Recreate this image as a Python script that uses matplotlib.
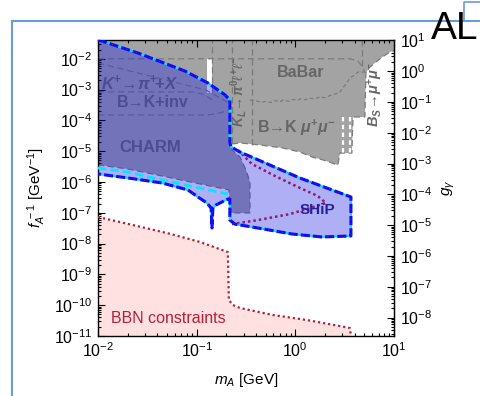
import numpy as np
import matplotlib
matplotlib.use("Agg")
import matplotlib.pyplot as plt
from matplotlib.ticker import LogLocator, NullFormatter
from matplotlib.lines import Line2D

plt.rcParams["font.family"] = ["Liberation Sans", "DejaVu Sans"]
plt.rcParams["mathtext.fontset"] = "custom"
plt.rcParams["mathtext.rm"] = "Liberation Sans"
plt.rcParams["mathtext.it"] = "Liberation Sans:italic"
plt.rcParams["mathtext.bf"] = "Liberation Sans:bold"
plt.rcParams["mathtext.bfit"] = "Liberation Sans:italic:bold"
plt.rcParams["mathtext.fallback"] = "stixsans"

# ---------------- data ----------------
m_lim = [1e-2, 1e1]                 # m_A [GeV]
f_lim = [1e-11, 10 ** -1.39]        # f_A^-1 [GeV^-1]
g_per_f = 10 ** 2.4                 # g_gamma per unit f_A^-1

# BBN excluded region (upper edge)
bbn_m = [0.01, 0.0226, 0.050, 0.108, 0.207, 0.212, 0.233, 0.275, 0.593, 1.31, 2.83, 3.57, 3.66]
bbn_f = [7.3e-8, 4.0e-8, 2.2e-8, 1.13e-8, 5.3e-9, 1.48e-10, 1.01e-10, 8.1e-11, 4.8e-11,
         3.3e-11, 2.1e-11, 1.82e-11, 1.0e-11]

# SHiP sensitivity, outer contour
ship_m = [0.01, 0.0254, 0.076, 0.130, 0.194, 0.217, 0.217, 0.222, 0.233, 0.275, 1.11, 3.66,
          3.66, 1.86, 0.925, 0.418, 0.244, 0.217, 0.217, 0.207, 0.180, 0.157, 0.146, 0.143,
          0.140, 0.127, 0.103, 0.0817, 0.0445, 0.0201, 0.01]
ship_f = [0.0415, 0.0154, 4.0e-3, 1.64e-3, 6.7e-4, 4.6e-4, 1.85e-5, 1.45e-5, 1.27e-5, 9.4e-6,
          1.35e-6, 3.26e-7, 1.77e-8, 1.64e-8, 2.05e-8, 3.2e-8, 4.3e-8, 5.8e-8, 2.8e-7, 2.8e-7,
          2.24e-7, 1.79e-7, 1.43e-7, 3.2e-8, 1.43e-7, 2.08e-7, 3.26e-7, 5.5e-7, 9.3e-7,
          1.35e-6, 1.82e-6]

# SHiP inner (dotted) contour
ship_in_m = [0.262, 0.363, 0.621, 1.06, 1.69, 2.04, 1.41, 0.88, 0.418, 0.228]
ship_in_f = [1.09e-5, 3.84e-6, 1.57e-6, 6.9e-7, 3.5e-7, 2.08e-7, 1.43e-7, 9.1e-8, 5.8e-8, 4.3e-8]

# lower edge of the CHARM-excluded band (cyan)
charm_m = [0.01, 0.0201, 0.0445, 0.0962, 0.207]
charm_f = [2.85e-6, 2.11e-6, 1.16e-6, 6.9e-7, 4.07e-7]

# combined excluded region (CHARM, K and B decays, BaBar, Bs -> mu mu)
excl_m = [0.0095, 10.5, 10.5, 9.08, 7.9, 6.56, 5.57, 5.19, 5.07, 3.84, 3.74, 2.83, 2.70, 1.91,
          1.47, 1.11, 0.748, 0.438, 0.275, 0.228, 0.228, 0.275, 0.316, 0.347, 0.347, 0.223,
          0.212, 0.194, 0.0962, 0.0445, 0.0201, 0.0095]
excl_f = [0.1, 0.1, 0.0193, 0.0166, 0.0123, 7.9e-3, 5.0e-3, 3.46e-3, 1.29e-4, 1.29e-4, 8.7e-6,
          8.7e-6, 3.56e-6, 5.2e-6, 6.5e-6, 9.4e-6, 1.27e-5, 1.59e-5, 1.85e-5, 1.71e-5, 1.09e-5,
          6.5e-6, 2.45e-6, 1.0e-6, 9.9e-8, 9.9e-8, 5.5e-7, 5.9e-7, 9.3e-7, 1.57e-6, 2.64e-6,
          3.7e-6]

# K+ -> pi+ X blind window around the pion mass
gap_m = [0.127, 0.143]
gap_f = [7.8e-4, 1.0e-2]

# individual constraint boundaries (dashed)
top_m = [0.01, 3.57, 4.3, 4.73, 5.07]
top_f = [1.0e-2, 1.0e-2, 8.5e-3, 5.8e-3, 3.7e-3]
kpi_m = [0.01, 0.124, 0.212]
kpi_f = [7.3e-3, 9.7e-4, 3.7e-4]
kpi_lo_m = [0.01, 0.09, 0.118, 0.145]
kpi_lo_f = [8.4e-4, 8.4e-4, 7.0e-4, 4.5e-4]
binv_m = [0.01, 0.13, 0.18, 0.215]
binv_f = [1.5e-4, 1.5e-4, 1.8e-4, 2.2e-4]
babar_m = [0.347, 0.40, 0.45, 0.50, 0.56, 0.62, 0.70, 0.75, 0.85, 0.95, 1.05, 1.11, 1.25, 1.4,
           1.55, 1.77, 2.0, 2.25, 2.52, 2.8, 3.03, 3.3, 3.57, 4.0, 4.3, 5.07]
babar_f = [4.6e-4, 4.3e-4, 3.9e-4, 4.1e-4, 3.8e-4, 4.4e-4, 4.0e-4, 4.6e-4, 4.2e-4, 4.8e-4,
           4.5e-4, 4.95e-4, 4.7e-4, 5.3e-4, 5.0e-4, 5.75e-4, 5.5e-4, 6.4e-4, 7.2e-4, 8.0e-4,
           1.13e-3, 1.6e-3, 2.38e-3, 3.0e-3, 3.7e-3, 3.7e-3]
vline_m = [0.143, 0.228, 0.363, 4.73]
vline_lo = [7.8e-4, 1.85e-5, 1.59e-5, 5.8e-3]
veto_m = [3.03, 3.57]                 # J/psi and psi(2S) windows
veto_f = [1.29e-4, 8.7e-6]

# ---------------- figure ----------------
W, H = 481, 396
fig = plt.figure(figsize=(W / 100, H / 100), dpi=100)
fig.patch.set_facecolor("white")
ax = fig.add_axes([98 / W, 60 / H, 296 / W, 296 / H])
ax.set_xscale("log")
ax.set_yscale("log")
ax.set_xlim(m_lim)
ax.set_ylim(f_lim)

gray_fill = "#a3a3a3"
gray_line = "#7b7b7b"
label_gray = "#666666"

# BBN
ax.fill_between(bbn_m, f_lim[0], bbn_f, color="#ffe1e1", lw=0, zorder=1)
ax.plot(bbn_m, bbn_f, ls=(0, (1, 1.3)), color="#b3203a", lw=1.6, zorder=5)

# excluded region
ax.fill(excl_m, excl_f, facecolor=gray_fill, edgecolor=gray_line, lw=0.9,
        ls=(0, (5, 3)), zorder=1.5)
ax.fill([gap_m[0], gap_m[1], gap_m[1], gap_m[0]], [gap_f[0], gap_f[0], gap_f[1], gap_f[1]],
        facecolor="white", edgecolor="none", zorder=1.6)

dash = dict(color=gray_line, lw=0.9, ls=(0, (5, 3)), zorder=1.7)
ax.plot(top_m, top_f, **dash)
ax.plot(kpi_m, kpi_f, **dash)
ax.plot(kpi_lo_m, kpi_lo_f, **dash)
ax.plot(binv_m, binv_f, **dash)
ax.plot(babar_m, babar_f, color=gray_line, lw=0.9, ls=(0, (3, 2)), zorder=1.7)
for xm, lo in zip(vline_m, vline_lo):
    ax.plot([xm, xm], [lo, 0.1], **dash)
for xm in veto_m:
    ax.plot([xm, xm], veto_f, color="white", lw=1.6, ls=(0, (2, 1.5)), zorder=1.7)

# labels lying under the SHiP shading
ax.text(0.0267, 1.64e-3, r"$\mathbfit{K}^{\mathbf{+}}\!\rightarrow\!\mathbfit{\pi}^{\mathbf{+}}\!\mathbf{+}\mathbfit{X}$",
        color=label_gray, fontsize=12, ha="center", va="center", zorder=1.8)
ax.text(0.036, 3.67e-4, "B→K+inv", color=label_gray, fontsize=11.5, fontweight="bold",
        ha="center", va="center", zorder=1.8)
ax.text(0.0337, 1.27e-5, "CHARM", color=label_gray, fontsize=12, fontweight="bold",
        ha="center", va="center", zorder=1.8)

# SHiP shading
ax.fill(ship_m, ship_f, facecolor="#1c1ce5", alpha=0.35, edgecolor="none", zorder=2)
ax.plot(charm_m, charm_f, color="#00e8ff", lw=2.0, ls=(0, (3, 1.5)), zorder=3)
ax.plot(ship_in_m, ship_in_f, color="#8b1a72", lw=1.8, ls=(0, (1, 1.2)), zorder=3)
ax.plot(ship_m, ship_f, color="#00e8ff", lw=1.6, zorder=4)
ax.plot(ship_m, ship_f, color="#0a0aff", lw=2.2, ls=(0, (3, 1)), zorder=4.1)
ax.plot(ship_m, ship_f, color="#c0304a", lw=0.8, ls=(0, (0.5, 4)), zorder=4.2)

# labels in the excluded region
ax.text(1.14, 3.46e-3, "BaBar", color=label_gray, fontsize=11.5, fontweight="bold",
        ha="center", va="center", zorder=6)
ax.text(1.01, 5.7e-5, r"B→K $\mathbfit{\mu}^{\mathbf{+}}\mathbfit{\mu}^{\mathbf{-}}$",
        color=label_gray, fontsize=11.5, fontweight="bold", ha="center", va="center", zorder=6)
ax.text(0.265, 8.7e-4, r"$\mathbfit{K}_{\mathbfit{L}}\!\rightarrow\!\mathbfit{\pi}^{\mathbf{0}}\ell^{\mathbf{+}}\ell^{\mathbf{-}}$",
        color=label_gray, fontsize=10, rotation=90, ha="center", va="center", zorder=6)
ax.text(6.4, 7.2e-4, r"$\mathbfit{B}_{\mathbfit{S}}\!\rightarrow\!\mathbfit{\mu}^{\mathbf{+}}\mathbfit{\mu}^{\mathbf{-}}$",
        color=label_gray, fontsize=10.5, rotation=90, ha="center", va="center", zorder=6)
ax.text(1.69, 1.23e-7, "SHiP", color="#22229a", fontsize=11, fontweight="bold",
        ha="center", va="center", zorder=6)
ax.text(0.0512, 3.84e-11, "BBN constraints", color="#b3203a", fontsize=11.5,
        ha="center", va="center", zorder=6)

# axes, ticks
ax.set_xlabel(r"$m_A$ [GeV]", fontsize=11, labelpad=8)
ax.set_ylabel(r"$f_A^{\;-1}$ [GeV$^{-1}$]", fontsize=11)
ax.xaxis.set_major_locator(LogLocator(base=10, numticks=20))
ax.xaxis.set_minor_locator(LogLocator(base=10, subs=np.arange(2, 10), numticks=200))
ax.yaxis.set_major_locator(LogLocator(base=10, numticks=20))
ax.yaxis.set_minor_locator(LogLocator(base=10, subs=np.arange(2, 10), numticks=200))
ax.xaxis.set_minor_formatter(NullFormatter())
ax.yaxis.set_minor_formatter(NullFormatter())
ax.tick_params(which="both", direction="in", top=True, right=False, labelsize=11.5,
               width=0.8, pad=4)
ax.tick_params(which="major", length=5)
ax.tick_params(which="minor", length=2.5)
for s in ax.spines.values():
    s.set_linewidth(1.0)

sec = ax.secondary_yaxis("right", functions=(lambda f: f * g_per_f, lambda g: g / g_per_f))
sec.yaxis.set_major_locator(LogLocator(base=10, numticks=20))
sec.yaxis.set_minor_locator(LogLocator(base=10, subs=np.arange(2, 10), numticks=200))
sec.yaxis.set_minor_formatter(NullFormatter())
sec.tick_params(which="both", direction="in", labelsize=11.5, width=0.8, pad=4)
sec.tick_params(which="major", length=5)
sec.tick_params(which="minor", length=2.5)
sec.set_ylabel(r"$g_{\gamma}$", fontsize=11, labelpad=6)

# slide frame and title fragment
frame = "#6c9bd9"
fig.add_artist(Line2D([12 / W, 12 / W], [0, 1 - 21 / H], transform=fig.transFigure,
                      color=frame, lw=1.5))
fig.add_artist(Line2D([12 / W, 1], [1 - 21 / H, 1 - 21 / H], transform=fig.transFigure,
                      color=frame, lw=1.5))
fig.text(431 / W, 1 - 39 / H, "AL", fontsize=28, color="black", ha="left", va="baseline")
fig.add_artist(Line2D([464 / W, 464 / W, 1], [1 - 20 / H, 1 - 2 / H, 1 - 2 / H],
                      transform=fig.transFigure, color=frame, lw=1.2))

fig.savefig("out.png", dpi=100)
